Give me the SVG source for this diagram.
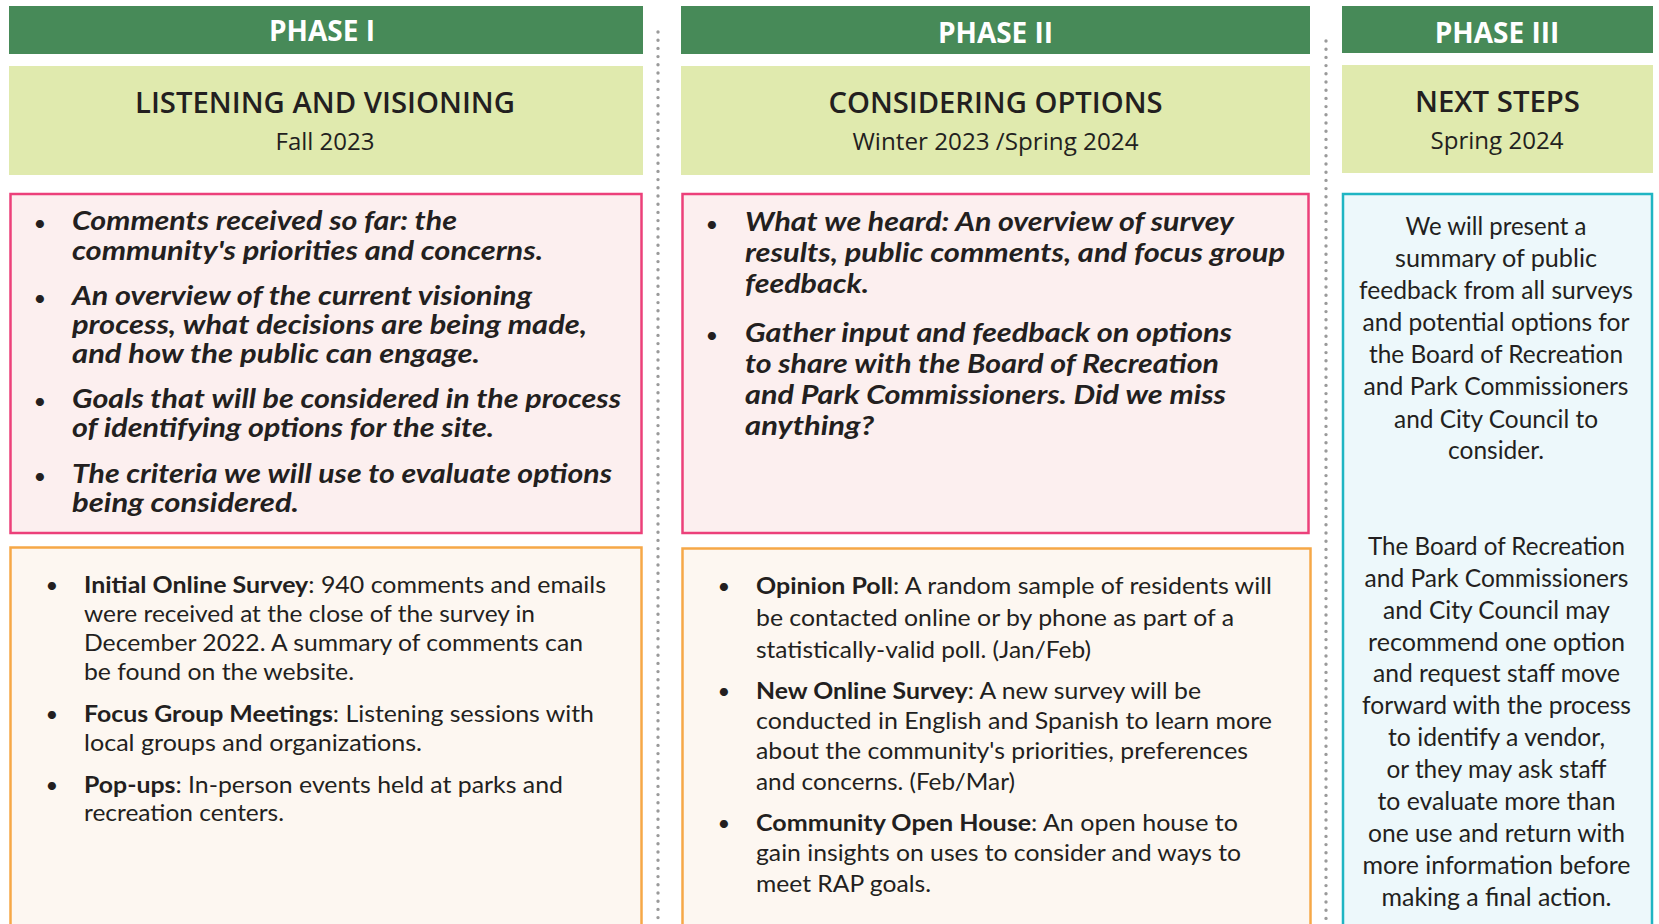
<svg xmlns="http://www.w3.org/2000/svg" width="1659" height="924" viewBox="0 0 1659 924">
<style>
.bar{fill:#478a58}
.title-bg{fill:#e0eaae}
.pink{fill:#fcefef;stroke:#ec407a;stroke-width:2.5}
.orange{fill:#fdf7f1;stroke:#f6a847;stroke-width:2.5}
.teal{fill:#edf8fb;stroke:#1fb5c3;stroke-width:2.5}
.phase{font-family:"Open Sans","Liberation Sans",sans-serif;font-weight:700;font-size:28px;fill:#ffffff;text-anchor:middle}
.title{font-family:"Open Sans","Liberation Sans",sans-serif;font-weight:600;font-size:29px;fill:#231f20;text-anchor:middle}
.date{font-family:"Open Sans","Liberation Sans",sans-serif;font-weight:400;font-size:24px;fill:#231f20;text-anchor:middle}
.bi{font-family:Lato,"Liberation Sans",sans-serif;font-weight:700;font-style:italic;font-size:26px;fill:#231f20}
.reg{font-family:Lato,"Liberation Sans",sans-serif;font-weight:400;font-size:23px;fill:#231f20}
.reg tspan.b{font-weight:700}
.ctr{font-family:Lato,"Liberation Sans",sans-serif;font-weight:400;font-size:25px;fill:#231f20;text-anchor:middle}
.bul{font-family:Lato,"Liberation Sans",sans-serif;font-size:22px;fill:#231f20;text-anchor:middle}
.dots{fill:none;stroke:#9a9a9a;stroke-width:3.4;stroke-linecap:round;stroke-dasharray:0 8.2}
</style>

<g id="connectors">
  <line class="dots" x1="658" y1="32" x2="658" y2="924"/>
  <line class="dots" x1="1326" y1="41" x2="1326" y2="924"/>
</g>

<g id="phase1-header">
  <rect class="bar" x="9" y="6" width="634" height="48"/>
  <text class="phase" x="322" y="41">PHASE I</text>
</g>
<g id="phase2-header">
  <rect class="bar" x="681" y="6" width="629" height="48"/>
  <text class="phase" x="995.5" y="43">PHASE II</text>
</g>
<g id="phase3-header">
  <rect class="bar" x="1342" y="6" width="311" height="47"/>
  <text class="phase" x="1497" y="42.5">PHASE III</text>
</g>

<g id="phase1-title">
  <rect class="title-bg" x="9" y="66" width="634" height="109"/>
  <text class="title" x="325" y="113" textLength="380" lengthAdjust="spacingAndGlyphs">LISTENING AND VISIONING</text>
  <text class="date" x="325" y="150">Fall 2023</text>
</g>
<g id="phase2-title">
  <rect class="title-bg" x="681" y="66" width="629" height="109"/>
  <text class="title" x="995.5" y="113" textLength="334" lengthAdjust="spacingAndGlyphs">CONSIDERING OPTIONS</text>
  <text class="date" x="995.5" y="149.5" textLength="286" lengthAdjust="spacingAndGlyphs">Winter 2023 /Spring 2024</text>
</g>
<g id="phase3-title">
  <rect class="title-bg" x="1342" y="65" width="311" height="108"/>
  <text class="title" x="1497.5" y="112" textLength="165" lengthAdjust="spacingAndGlyphs">NEXT STEPS</text>
  <text class="date" x="1497" y="148.5" textLength="133" lengthAdjust="spacingAndGlyphs">Spring 2024</text>
</g>

<g id="phase1-topics">
  <rect class="pink" x="10.5" y="194" width="631" height="339"/>
  <text class="bul" x="40" y="231">•</text>
  <text class="bi" x="72" y="230" textLength="385" lengthAdjust="spacingAndGlyphs">Comments received so far: the</text>
  <text class="bi" x="72" y="260" textLength="471" lengthAdjust="spacingAndGlyphs">community's priorities and concerns.</text>
  <text class="bul" x="40" y="306">•</text>
  <text class="bi" x="72" y="305" textLength="460" lengthAdjust="spacingAndGlyphs">An overview of the current visioning</text>
  <text class="bi" x="72" y="334" textLength="515" lengthAdjust="spacingAndGlyphs">process, what decisions are being made,</text>
  <text class="bi" x="72" y="363" textLength="408" lengthAdjust="spacingAndGlyphs">and how the public can engage.</text>
  <text class="bul" x="40" y="409">•</text>
  <text class="bi" x="72" y="408" textLength="549" lengthAdjust="spacingAndGlyphs">Goals that will be considered in the process</text>
  <text class="bi" x="72" y="437" textLength="422" lengthAdjust="spacingAndGlyphs">of identifying options for the site.</text>
  <text class="bul" x="40" y="484">•</text>
  <text class="bi" x="72" y="483" textLength="540" lengthAdjust="spacingAndGlyphs">The criteria we will use to evaluate options</text>
  <text class="bi" x="72" y="512" textLength="227" lengthAdjust="spacingAndGlyphs">being considered.</text>
</g>

<g id="phase2-topics">
  <rect class="pink" x="682.5" y="194" width="626" height="339"/>
  <text class="bul" x="712" y="232">•</text>
  <text class="bi" x="745" y="231" textLength="489" lengthAdjust="spacingAndGlyphs">What we heard: An overview of survey</text>
  <text class="bi" x="745" y="262" textLength="540" lengthAdjust="spacingAndGlyphs">results, public comments, and focus group</text>
  <text class="bi" x="745" y="293" textLength="124" lengthAdjust="spacingAndGlyphs">feedback.</text>
  <text class="bul" x="712" y="343">•</text>
  <text class="bi" x="745" y="342" textLength="487" lengthAdjust="spacingAndGlyphs">Gather input and feedback on options</text>
  <text class="bi" x="745" y="373" textLength="474" lengthAdjust="spacingAndGlyphs">to share with the Board of Recreation</text>
  <text class="bi" x="745" y="404" textLength="481" lengthAdjust="spacingAndGlyphs">and Park Commissioners. Did we miss</text>
  <text class="bi" x="745" y="435" textLength="129" lengthAdjust="spacingAndGlyphs">anything?</text>
</g>

<g id="phase1-activities">
  <rect class="orange" x="10.5" y="547.5" width="631" height="390"/>
  <text class="bul" x="52" y="593">•</text>
  <text class="reg" x="84" y="593" textLength="522" lengthAdjust="spacingAndGlyphs"><tspan class="b">Initial Online Survey</tspan>: 940 comments and emails</text>
  <text class="reg" x="84" y="621.5" textLength="451" lengthAdjust="spacingAndGlyphs">were received at the close of the survey in</text>
  <text class="reg" x="84" y="650.5" textLength="499" lengthAdjust="spacingAndGlyphs">December 2022. A summary of comments can</text>
  <text class="reg" x="84" y="680" textLength="270" lengthAdjust="spacingAndGlyphs">be found on the website.</text>
  <text class="bul" x="52" y="722">•</text>
  <text class="reg" x="84" y="722" textLength="510" lengthAdjust="spacingAndGlyphs"><tspan class="b">Focus Group Meetings</tspan>: Listening sessions with</text>
  <text class="reg" x="84" y="751" textLength="338" lengthAdjust="spacingAndGlyphs">local groups and organizations.</text>
  <text class="bul" x="52" y="793">•</text>
  <text class="reg" x="84" y="793" textLength="479" lengthAdjust="spacingAndGlyphs"><tspan class="b">Pop-ups</tspan>: In-person events held at parks and</text>
  <text class="reg" x="84" y="821" textLength="200" lengthAdjust="spacingAndGlyphs">recreation centers.</text>
</g>

<g id="phase2-activities">
  <rect class="orange" x="682.5" y="548.5" width="628" height="390"/>
  <text class="bul" x="724" y="594">•</text>
  <text class="reg" x="756" y="594" textLength="516" lengthAdjust="spacingAndGlyphs"><tspan class="b">Opinion Poll</tspan>: A random sample of residents will</text>
  <text class="reg" x="756" y="626" textLength="478" lengthAdjust="spacingAndGlyphs">be contacted online or by phone as part of a</text>
  <text class="reg" x="756" y="657.5" textLength="335" lengthAdjust="spacingAndGlyphs">statistically-valid poll. (Jan/Feb)</text>
  <text class="bul" x="724" y="698.5">•</text>
  <text class="reg" x="756" y="698.5" textLength="445" lengthAdjust="spacingAndGlyphs"><tspan class="b">New Online Survey</tspan>: A new survey will be</text>
  <text class="reg" x="756" y="728.5" textLength="516" lengthAdjust="spacingAndGlyphs">conducted in English and Spanish to learn more</text>
  <text class="reg" x="756" y="758.5" textLength="492" lengthAdjust="spacingAndGlyphs">about the community's priorities, preferences</text>
  <text class="reg" x="756" y="789.5" textLength="259" lengthAdjust="spacingAndGlyphs">and concerns. (Feb/Mar)</text>
  <text class="bul" x="724" y="830.5">•</text>
  <text class="reg" x="756" y="830.5" textLength="482" lengthAdjust="spacingAndGlyphs"><tspan class="b">Community Open House</tspan>: An open house to</text>
  <text class="reg" x="756" y="860.5" textLength="485" lengthAdjust="spacingAndGlyphs">gain insights on uses to consider and ways to</text>
  <text class="reg" x="756" y="892" textLength="175" lengthAdjust="spacingAndGlyphs">meet RAP goals.</text>
</g>

<g id="phase3-next-steps">
  <rect class="teal" x="1343" y="194" width="309" height="745"/>
  <text class="ctr" x="1496" y="235" textLength="181" lengthAdjust="spacingAndGlyphs">We will present a</text>
  <text class="ctr" x="1496" y="267" textLength="202" lengthAdjust="spacingAndGlyphs">summary of public</text>
  <text class="ctr" x="1496" y="299" textLength="274" lengthAdjust="spacingAndGlyphs">feedback from all surveys</text>
  <text class="ctr" x="1496" y="331" textLength="267" lengthAdjust="spacingAndGlyphs">and potential options for</text>
  <text class="ctr" x="1496" y="363" textLength="254" lengthAdjust="spacingAndGlyphs">the Board of Recreation</text>
  <text class="ctr" x="1496" y="395" textLength="265" lengthAdjust="spacingAndGlyphs">and Park Commissioners</text>
  <text class="ctr" x="1496" y="427.5" textLength="204" lengthAdjust="spacingAndGlyphs">and City Council to</text>
  <text class="ctr" x="1496" y="459" textLength="96" lengthAdjust="spacingAndGlyphs">consider.</text>
  <text class="ctr" x="1496.5" y="555" textLength="257" lengthAdjust="spacingAndGlyphs">The Board of Recreation</text>
  <text class="ctr" x="1496.5" y="587" textLength="264" lengthAdjust="spacingAndGlyphs">and Park Commissioners</text>
  <text class="ctr" x="1496.5" y="618.5" textLength="227" lengthAdjust="spacingAndGlyphs">and City Council may</text>
  <text class="ctr" x="1496.5" y="650.5" textLength="257" lengthAdjust="spacingAndGlyphs">recommend one option</text>
  <text class="ctr" x="1496.5" y="682" textLength="247" lengthAdjust="spacingAndGlyphs">and request staff move</text>
  <text class="ctr" x="1496.5" y="714" textLength="269" lengthAdjust="spacingAndGlyphs">forward with the process</text>
  <text class="ctr" x="1496.5" y="746" textLength="217" lengthAdjust="spacingAndGlyphs">to identify a vendor,</text>
  <text class="ctr" x="1496.5" y="777.5" textLength="220" lengthAdjust="spacingAndGlyphs">or they may ask staff</text>
  <text class="ctr" x="1496.5" y="809.5" textLength="238" lengthAdjust="spacingAndGlyphs">to evaluate more than</text>
  <text class="ctr" x="1496.5" y="842" textLength="257" lengthAdjust="spacingAndGlyphs">one use and return with</text>
  <text class="ctr" x="1496.5" y="874" textLength="268" lengthAdjust="spacingAndGlyphs">more information before</text>
  <text class="ctr" x="1496.5" y="906" textLength="230" lengthAdjust="spacingAndGlyphs">making a final action.</text>
</g>
</svg>
